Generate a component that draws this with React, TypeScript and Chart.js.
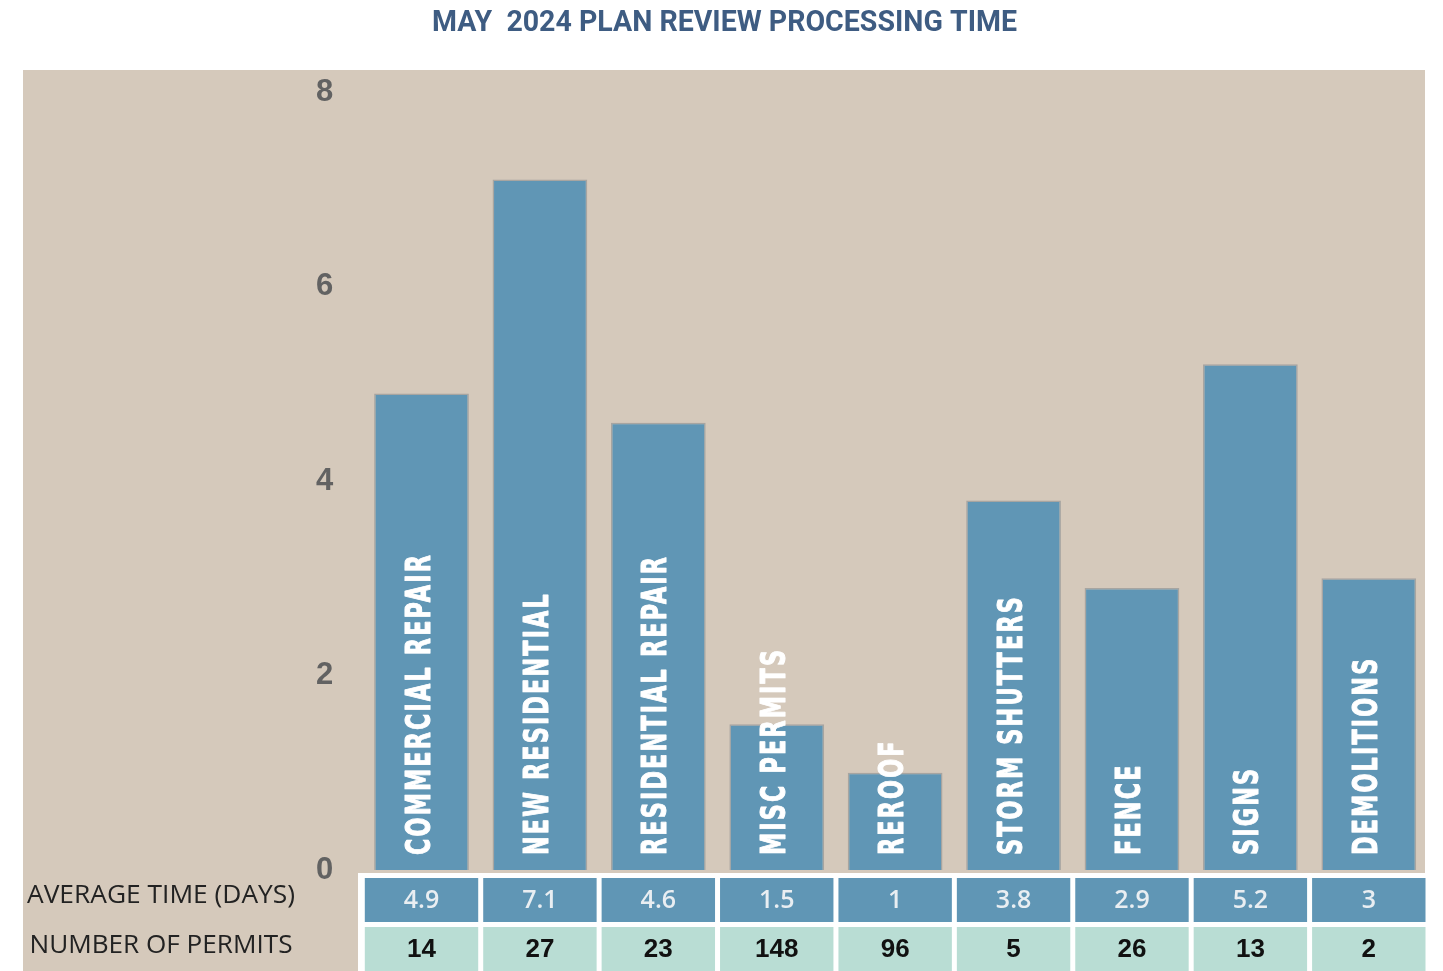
import React, { useEffect, useRef } from "react";
import { Chart, registerables } from "chart.js";

Chart.register(...registerables);

const chartTitle = "MAY  2024 PLAN REVIEW PROCESSING TIME";
const categories = [
  "COMMERCIAL REPAIR",
  "NEW RESIDENTIAL",
  "RESIDENTIAL REPAIR",
  "MISC PERMITS",
  "REROOF",
  "STORM SHUTTERS",
  "FENCE",
  "SIGNS",
  "DEMOLITIONS",
];
const avgDays = [4.9, 7.1, 4.6, 1.5, 1, 3.8, 2.9, 5.2, 3];
const avgDaysLabels = ["4.9", "7.1", "4.6", "1.5", "1", "3.8", "2.9", "5.2", "3"];
const permitCounts = [14, 27, 23, 148, 96, 5, 26, 13, 2];
const rowLabels = ["AVERAGE TIME (DAYS)", "NUMBER OF PERMITS"];
const yTicks = [0, 2, 4, 6, 8];

const W = 1443;
const H = 971;
const BEIGE = "#d5c9bb";
const BLUE = "#6096b5";
const TEAL = "#b9ddd4";
const TITLE_COLOR = "#3e5c82";

function fitText(ctx: CanvasRenderingContext2D, text: string, cx: number, cy: number, target: number) {
  const w = ctx.measureText(text).width;
  ctx.save();
  ctx.translate(cx, cy);
  ctx.scale(target / w, 1);
  ctx.textAlign = "center";
  ctx.fillText(text, 0, 0);
  ctx.restore();
}

const decor = {
  id: "decor",
  beforeDraw(chart: any) {
    const ctx: CanvasRenderingContext2D = chart.ctx;
    const x = chart.scales.x;
    ctx.save();
    ctx.fillStyle = "#ffffff";
    ctx.fillRect(0, 0, W, H);
    ctx.fillStyle = BEIGE;
    ctx.fillRect(23, 70, 1402, H - 70);
    ctx.fillStyle = "#ffffff";
    ctx.fillRect(358, 873, 1072, H - 873);

    // title
    ctx.fillStyle = TITLE_COLOR;
    ctx.font = 'bold 29px Roboto, "Liberation Sans", sans-serif';
    ctx.textBaseline = "middle";
    fitText(ctx, chartTitle, 724.5, 24, 585);

    // row labels
    ctx.fillStyle = "#222222";
    ctx.font = '25px "Open Sans", "Liberation Sans", sans-serif';
    fitText(ctx, rowLabels[0], 161, 896, 268);
    fitText(ctx, rowLabels[1], 161, 946, 263);

    // table cells
    const pitch = x.width / categories.length;
    const cw = pitch - 5;
    for (let i = 0; i < categories.length; i++) {
      const cx = x.getPixelForValue(i);
      ctx.fillStyle = BLUE;
      ctx.fillRect(cx - cw / 2, 878, cw, 44);
      ctx.fillStyle = TEAL;
      ctx.fillRect(cx - cw / 2, 927, cw, 50);
      ctx.textAlign = "center";
      ctx.textBaseline = "middle";
      ctx.fillStyle = "#e9eef2";
      ctx.font = '600 25px "Open Sans", "Liberation Sans", sans-serif';
      ctx.fillText(avgDaysLabels[i], cx, 901);
      ctx.fillStyle = "#111111";
      ctx.font = 'bold 26px "Liberation Sans", sans-serif';
      ctx.fillText(String(permitCounts[i]), cx, 950);
    }
    ctx.restore();
  },
  afterDatasetsDraw(chart: any) {
    const ctx: CanvasRenderingContext2D = chart.ctx;
    const x = chart.scales.x;
    ctx.save();
    ctx.fillStyle = "#ffffff";
    ctx.strokeStyle = "#ffffff";
    ctx.lineWidth = 1;
    ctx.lineJoin = "round";
    ctx.font = 'bold 34px "DejaVu Sans Condensed", "Liberation Sans", sans-serif';
    (ctx as any).letterSpacing = "3px";
    const factor = 302 / ctx.measureText(categories[0]).width;
    ctx.textAlign = "left";
    ctx.textBaseline = "alphabetic";
    for (let i = 0; i < categories.length; i++) {
      const cx = x.getPixelForValue(i);
      ctx.save();
      ctx.translate(cx + 8, 855);
      ctx.rotate(-Math.PI / 2);
      ctx.scale(factor, 1);
      ctx.fillText(categories[i], 0, 0);
      ctx.strokeText(categories[i], 0, 0);
      ctx.restore();
    }
    ctx.restore();
  },
};

export default function App() {
  const ref = useRef<HTMLCanvasElement | null>(null);
  useEffect(() => {
    document.body.style.margin = "0";
    const canvas = ref.current;
    if (!canvas) return;
    const chart = new Chart(canvas, {
      type: "bar",
      data: {
        labels: categories,
        datasets: [
          {
            data: avgDays,
            backgroundColor: BLUE,
            borderColor: "rgba(130,135,140,0.55)",
            borderWidth: 1.5,
            barPercentage: 0.8,
            categoryPercentage: 1,
          },
        ],
      },
      options: {
        responsive: false,
        animation: false,
        devicePixelRatio: 1,
        layout: { padding: { left: 0, right: 15, top: 92, bottom: 101 } },
        plugins: {
          legend: { display: false },
          tooltip: { enabled: false },
          title: { display: false },
        },
        scales: {
          x: { display: false, offset: true },
          y: {
            min: 0,
            max: 8,
            afterFit(scale: any) {
              scale.width = 362.3;
            },
            afterBuildTicks(scale: any) {
              scale.ticks = yTicks.map((v) => ({ value: v }));
            },
            grid: { display: false, drawTicks: false },
            border: { display: false },
            ticks: {
              padding: 29,
              color: "#626262",
              font: { family: '"Liberation Sans", sans-serif', size: 31, weight: "bold" },
            },
          },
        },
      },
      plugins: [decor],
    });
    return () => chart.destroy();
  }, []);
  return (
    <canvas ref={ref} width={W} height={H} style={{ display: "block", width: W, height: H }} />
  );
}
